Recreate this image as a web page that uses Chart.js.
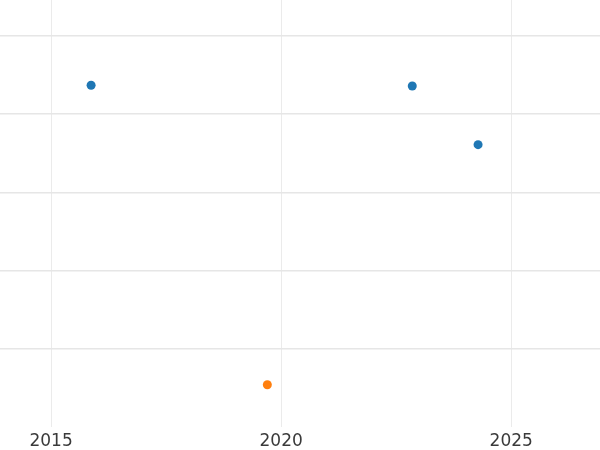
<!DOCTYPE html>
<html>
<head>
<meta charset="utf-8">
<script src="https://cdn.jsdelivr.net/npm/chart.js@4"></script>
<style>
html,body{margin:0;padding:0;background:#fff;}
#wrap{width:600px;height:450px;}
</style>
</head>
<body>
<div id="wrap"><canvas id="c" width="600" height="450"></canvas></div>
<script>
const seriesA = [
  {x: 2015.87, y: 4.37},
  {x: 2022.85, y: 4.36},
  {x: 2024.28, y: 3.61}
];
const seriesB = [
  {x: 2019.70, y: 0.54}
];
const xTicks = [2015, 2020, 2025];
const yTicks = [1, 2, 3, 4, 5];

new Chart(document.getElementById('c'), {
  type: 'scatter',
  data: {
    datasets: [
      {data: seriesA, backgroundColor: '#1f77b4', borderColor: '#1f77b4', pointRadius: 4.5, pointHoverRadius: 4.5, borderWidth: 0},
      {data: seriesB, backgroundColor: '#ff7f0e', borderColor: '#ff7f0e', pointRadius: 4.5, pointHoverRadius: 4.5, borderWidth: 0}
    ]
  },
  options: {
    responsive: false,
    animation: false,
    layout: {padding: 0, autoPadding: false},
    plugins: {legend: {display: false}, tooltip: {enabled: false}},
    scales: {
      x: {
        type: 'linear',
        min: 2013.89,
        max: 2026.93,
        afterBuildTicks: (s) => { s.ticks = xTicks.map(v => ({value: v})); },
        afterFit: (s) => { s.height = 23; },
        grid: {color: '#ebebeb', lineWidth: 1, drawTicks: false},
        border: {display: false},
        ticks: {
          padding: 4,
          color: '#3a3a3a',
          font: {family: 'DejaVu Sans', size: 17},
          maxRotation: 0,
          callback: (v) => String(v)
        }
      },
      y: {
        type: 'linear',
        min: 0,
        max: 5.46,
        afterBuildTicks: (s) => { s.ticks = yTicks.map(v => ({value: v})); },
        grid: {color: '#e6e6e6', lineWidth: 1.5, drawTicks: false},
        border: {display: false},
        ticks: {display: false}
      }
    }
  }
});
</script>
</body>
</html>
